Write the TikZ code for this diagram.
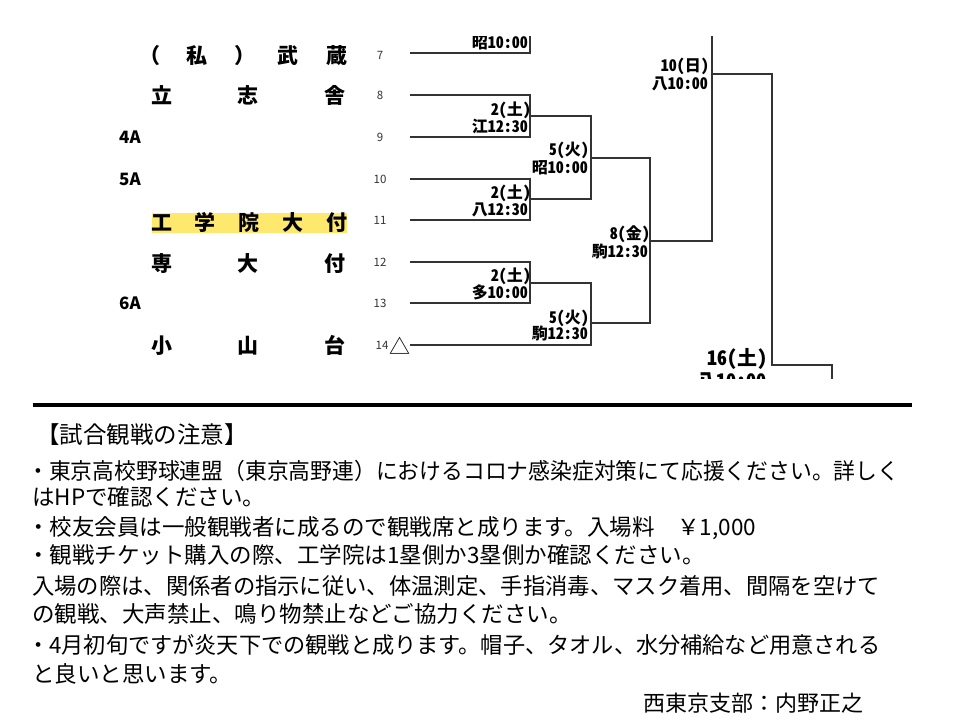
\documentclass[tikz,border=0pt]{standalone}
\usepackage{fontspec}
\usepackage{graphicx}
\newfontfamily\jp{Noto Sans CJK JP}
\newfontfamily\jph{Noto Sans CJK JP}[RawFeature=+hwid]
\definecolor{hl}{RGB}{255,232,110}
\tikzset{
  nm/.style={font=\jp\bfseries\fontsize{21}{21}\selectfont, inner sep=0pt, anchor=base},
  lv/.style={font=\jp\bfseries\fontsize{17}{17}\selectfont, inner sep=0pt, anchor=base},
  num/.style={font=\jp\fontsize{11.5}{11.5}\selectfont, text=black!80, inner sep=0pt, anchor=base},
  lab/.style={font=\jph\bfseries\fontsize{16}{16}\selectfont, inner sep=0pt, anchor=base east},
  labbig/.style={font=\jph\bfseries\fontsize{20}{20}\selectfont, inner sep=0pt, anchor=base east},
  br/.style={draw=black!80, line width=1.2pt},
  note/.style={font=\jp\fontsize{22.5}{22.5}\selectfont, inner sep=0pt, anchor=base west}
}
\begin{document}
\begin{tikzpicture}[x=1pt,y=-1pt]
\fill[white] (0,0) rectangle (960,720);
\useasboundingbox (0,0) rectangle (960,720);

% highlight behind 工学院大付
\fill[hl] (152,213) rectangle (347,233);

% school names
\foreach \c/\x in {（/150, 私/197, ）/245, 武/288, 蔵/337}
  \node[nm] (r7-\x) at (\x,63) {\c};
\foreach \c/\x in {立/162, 志/248, 舎/335}
  \node[nm] (r8-\x) at (\x,103) {\c};
\foreach \c/\x in {工/162, 学/205, 院/249, 大/293, 付/337}
  \node[nm] (r11-\x) at (\x,230) {\c};
\foreach \c/\x in {専/162, 大/248, 付/335}
  \node[nm] (r12-\x) at (\x,271) {\c};
\foreach \c/\x in {小/162, 山/248, 台/335}
  \node[nm] (r14-\x) at (\x,353) {\c};

\node[lv] (s4a) at (130,143.2) {4A};
\node[lv] (s5a) at (130,185.2) {5A};
\node[lv] (s6a) at (130,309.2) {6A};

% line numbers
\node[num] (k7) at (380,59) {7};
\node[num] (k8) at (380,99) {8};
\node[num] (k9) at (380,141) {9};
\node[num] (k10) at (380,183) {10};
\node[num] (k11) at (380,224) {11};
\node[num] (k12) at (380,266) {12};
\node[num] (k13) at (380,307) {13};
\node[num] (k14) at (382,349) {14};
\node[font=\jp\fontsize{21}{21}\selectfont, inner sep=0pt, anchor=base] (tri) at (400,354.5) {△};

% bracket coordinates
\coordinate (a7) at (410,53);
\coordinate (a8) at (410,95);
\coordinate (a9) at (410,137);
\coordinate (a10) at (410,179);
\coordinate (a11) at (410,220);
\coordinate (a12) at (410,262);
\coordinate (a13) at (410,303);
\coordinate (a14) at (410,345);
\coordinate (t1) at (530,20);
\coordinate (j89) at (530,116);
\coordinate (j1011) at (530,199);
\coordinate (j1213) at (530,283);
\coordinate (q1) at (591,158);
\coordinate (q2) at (591,323);
\coordinate (r1) at (650,241);
\coordinate (t2) at (712,20);
\coordinate (s1) at (712,74);
\coordinate (v1) at (772,365);
\coordinate (w1) at (832,400);

\begin{scope}
\clip (0,36) rectangle (960,378);
\draw[br] (a7) -| (t1);
\draw[br] (a8) -| (j89) |- (a9);
\draw[br] (a10) -| (j1011) |- (a11);
\draw[br] (a12) -| (j1213) |- (a13);
\draw[br] (j89) -| (q1) |- (j1011);
\draw[br] (j1213) -| (q2) |- (a14);
\draw[br] (q1) -| (r1) |- (q2);
\draw[br] (r1) -| (s1) -- (t2);
\draw[br] (s1) -| (v1) -| (w1);

\node[lab] (d1) at (528,48) {昭10:00};
\node[lab] (d2) at (709,71) {10(日)};
\node[lab] (d3) at (708,89) {八10:00};
\node[lab] (d4) at (531,115) {2(土)};
\node[lab] (d5) at (528,132) {江12:30};
\node[lab] (d6) at (589,155) {5(火)};
\node[lab] (d7) at (588,173) {昭10:00};
\node[lab] (d8) at (531,198) {2(土)};
\node[lab] (d9) at (528,215) {八12:30};
\node[lab] (d10) at (650,239) {8(金)};
\node[lab] (d11) at (648,257) {駒12:30};
\node[lab] (d12) at (531,281) {2(土)};
\node[lab] (d13) at (528,298) {多10:00};
\node[lab] (d14) at (589,323) {5(火)};
\node[lab] (d15) at (588,339) {駒12:30};
\node[labbig] (d16) at (768,365.5) {16(土)};
\node[labbig] (d17) at (767,388) {八10:00};
\end{scope}

% separator
\coordinate (sepL) at (33,405);
\coordinate (sepR) at (912,405);
\draw[line width=4pt] (sepL) -- (sepR);

% notes
\node[note, font=\jp\fontsize{23.5}{23.5}\selectfont] (hd) at (36,443) {【試合観戦の注意】};
\node[note] (l1) at (27,479.5) {\resizebox{872pt}{\height}{・東京高校野球連盟（東京高野連）におけるコロナ感染症対策にて応援ください。詳しく}};
\node[note] (l2) at (32,505.5) {はHPで確認ください。};
\node[note] (l3) at (27,535.5) {・校友会員は一般観戦者に成るので観戦席と成ります。入場料　￥1,000};
\node[note] (l4) at (27,563.5) {・観戦チケット購入の際、工学院は1塁側か3塁側か確認ください。};
\node[note] (l5) at (32,594.5) {\resizebox{848pt}{\height}{入場の際は、関係者の指示に従い、体温測定、手指消毒、マスク着用、間隔を空けて}};
\node[note] (l6) at (32,622.5) {の観戦、大声禁止、鳴り物禁止などご協力ください。};
\node[note] (l7) at (27,653.5) {\resizebox{853pt}{\height}{・4月初旬ですが炎天下での観戦と成ります。帽子、タオル、水分補給など用意される}};
\node[note] (l8) at (32,682.5) {と良いと思います。};
\node[note, font=\jp\fontsize{22}{22}\selectfont] (sig) at (643,711) {西東京支部：内野正之};
\end{tikzpicture}
\end{document}
